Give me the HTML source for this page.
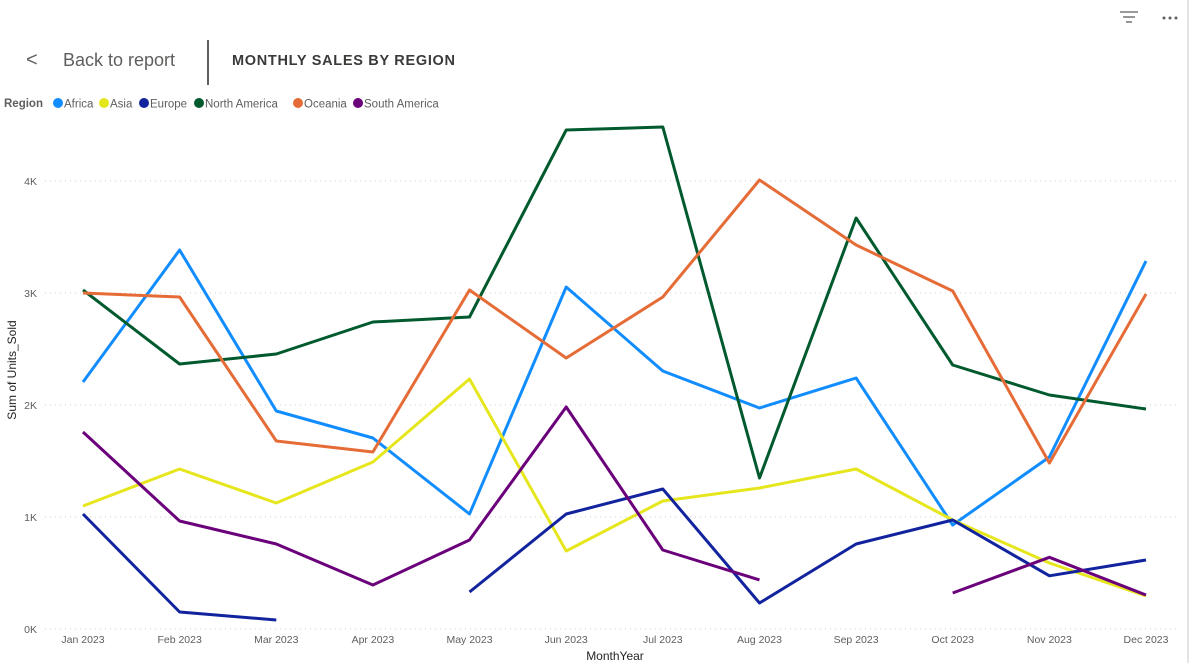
<!DOCTYPE html>
<html><head><meta charset="utf-8"><style>
body{margin:0;background:#fff;font-family:"Liberation Sans",sans-serif;}
#wrap{position:relative;width:1191px;height:663px;overflow:hidden;background:#fff;}
</style></head><body>
<div id="wrap">
<svg id="chart" width="1191" height="663"></svg>
</div>
<script>
const months=["Jan 2023","Feb 2023","Mar 2023","Apr 2023","May 2023","Jun 2023","Jul 2023","Aug 2023","Sep 2023","Oct 2023","Nov 2023","Dec 2023"];
const yTicks=[0,1000,2000,3000,4000];
const yTickLabels=["0K","1K","2K","3K","4K"];
const regions=["Africa","Asia","Europe","North America","Oceania","South America"];
const colors=["#118DFF","#E6E61E","#12239E","#005A2E","#E66C37","#6B007B"];
const africa=[2205,3384,1946,1705,1027,3054,2304,1973,2241,929,1536,3286];
const asia=[1098,1429,1125,1491,2232,696,1143,1259,1429,973,589,295];
const europe=[1027,152,80,null,330,1027,1250,232,759,973,475,616];
const northAmerica=[3027,2366,2455,2741,2786,4455,4482,1348,3670,2357,2089,1964];
const oceania=[3000,2964,1679,1580,3027,2420,2964,4009,3429,3018,1482,2991];
const southAmerica=[1759,964,759,393,795,1982,705,438,null,321,640,304];
const series=[africa,asia,europe,northAmerica,oceania,southAmerica];

const NS="http://www.w3.org/2000/svg";
const svg=document.getElementById('chart');
function mk(t,a,p){const e=document.createElementNS(NS,t);for(const k in a)e.setAttribute(k,a[k]);(p||svg).appendChild(e);return e;}
const x=i=>83+i*(1146-83)/11;
const y=v=>629-v*0.112;

let b=mk('line',{x1:1188,y1:0,x2:1188,y2:663,stroke:'#c8c8c8','stroke-width':1});


let t=mk('text',{x:26,y:66,fill:'#605E5C','font-size':20});t.textContent='<';


t=mk('text',{x:63,y:66,fill:'#605E5C','font-size':18});t.textContent='Back to report';


let d=mk('line',{x1:208,y1:40,x2:208,y2:85,stroke:'#605E5C','stroke-width':2});


t=mk('text',{x:232,y:65,fill:'#3b3a39','font-size':14.5,'font-weight':'bold','letter-spacing':'0.7'});t.textContent='MONTHLY SALES BY REGION';


let g=mk('g',{stroke:'#605E5C','stroke-width':1.3});


mk('line',{x1:1120,y1:12,x2:1138,y2:12},g);mk('line',{x1:1123,y1:17,x2:1135,y2:17},g);mk('line',{x1:1126,y1:22,x2:1132,y2:22},g);
g=mk('g',{fill:'#605E5C'});


[1164,1170,1176].forEach(cx=>mk('circle',{cx:cx,cy:18,r:1.5},g));
t=mk('text',{x:4,y:107,fill:'#605E5C','font-size':11.5,'font-weight':'bold'});t.textContent='Region';


const lx=[58,104,144,199,298,358];
regions.forEach((r,i)=>{
 const lg=mk('g',{});
 
 
 mk('circle',{cx:lx[i],cy:103,r:5,fill:colors[i]},lg);
 const tt=mk('text',{x:lx[i]+6,y:107.5,fill:'#605E5C','font-size':11.5},lg);tt.textContent=r;
});
yTicks.forEach((v,i)=>{
 const gl=mk('line',{x1:45,x2:1180,y1:y(v),y2:y(v),stroke:'#d0d0d0','stroke-dasharray':'1 4','stroke-width':1});
 
 
 const tl=mk('text',{x:37,y:y(v)+4,'text-anchor':'end',fill:'#605E5C','font-size':10.5});tl.textContent=yTickLabels[i];
 
 
});
months.forEach((m,i)=>{
 const tl=mk('text',{x:x(i),y:643,'text-anchor':'middle',fill:'#605E5C','font-size':10.5});tl.textContent=m;
 
 
});
t=mk('text',{x:615,y:660,'text-anchor':'middle',fill:'#252423','font-size':12});t.textContent='MonthYear';


t=mk('text',{x:16,y:370,'text-anchor':'middle',fill:'#252423','font-size':12,transform:'rotate(-90 16 370)'});t.textContent='Sum of Units_Sold';


series.forEach((s,si)=>{
 let segs=[],cur=[];
 s.forEach((v,i)=>{if(v==null){if(cur.length)segs.push(cur);cur=[];}else cur.push(x(i).toFixed(1)+','+y(v).toFixed(1));});
 if(cur.length)segs.push(cur);
 segs.forEach(sg=>{
  const p=mk('polyline',{points:sg.join(' '),fill:'none',stroke:colors[si],'stroke-width':3,'stroke-linejoin':'round'});
  
  
 });
});
</script>
</body></html>
